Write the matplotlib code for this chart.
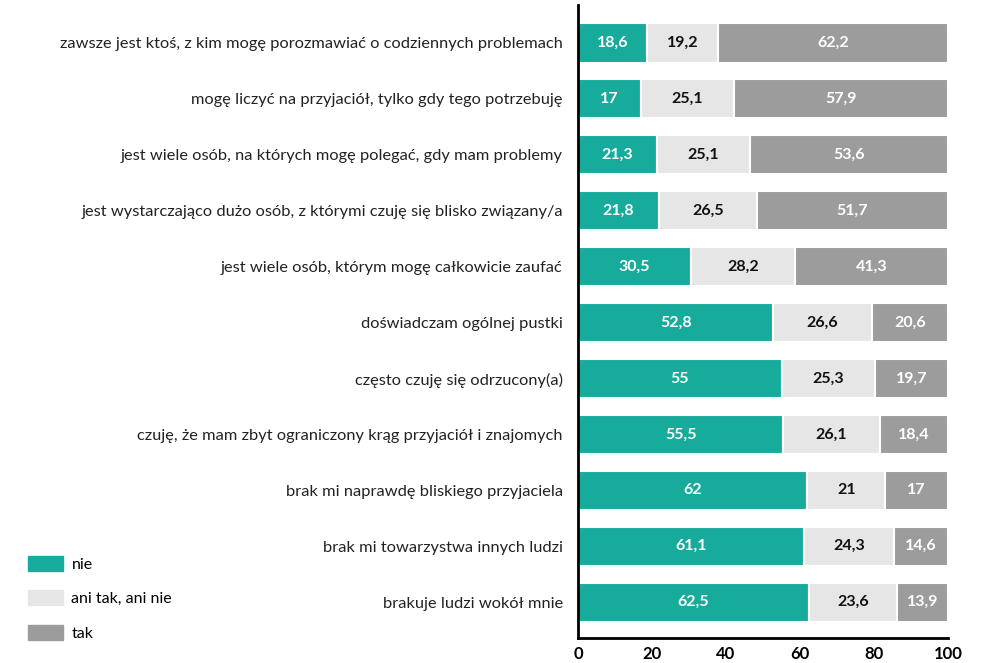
import matplotlib.pyplot as plt
from matplotlib.patches import Patch
import numpy as np

plt.rcParams['font.family'] = ['Lato', 'DejaVu Sans']

statements = [
    "zawsze jest ktoś, z kim mogę porozmawiać o codziennych problemach",
    "mogę liczyć na przyjaciół, tylko gdy tego potrzebuję",
    "jest wiele osób, na których mogę polegać, gdy mam problemy",
    "jest wystarczająco dużo osób, z którymi czuję się blisko związany/a",
    "jest wiele osób, którym mogę całkowicie zaufać",
    "doświadczam ogólnej pustki",
    "często czuję się odrzucony(a)",
    "czuję, że mam zbyt ograniczony krąg przyjaciół i znajomych",
    "brak mi naprawdę bliskiego przyjaciela",
    "brak mi towarzystwa innych ludzi",
    "brakuje ludzi wokół mnie",
]
nie = [18.6, 17, 21.3, 21.8, 30.5, 52.8, 55, 55.5, 62, 61.1, 62.5]
ani = [19.2, 25.1, 25.1, 26.5, 28.2, 26.6, 25.3, 26.1, 21, 24.3, 23.6]
tak = [62.2, 57.9, 53.6, 51.7, 41.3, 20.6, 19.7, 18.4, 17, 14.6, 13.9]

series = [("nie", nie, "#17ab9b", "white"),
          ("ani tak, ani nie", ani, "#e6e6e6", "#111111"),
          ("tak", tak, "#9c9c9c", "white")]

fig = plt.figure(figsize=(9.92, 6.63), dpi=100)
ax = fig.add_axes([0.5827, 0.0377, 0.373, 0.9548])

y = np.arange(len(statements))
left = np.zeros(len(statements))
for name, vals, col, tcol in series:
    vals = np.array(vals)
    ax.barh(y, vals, left=left, height=0.7, color=col, edgecolor="white", linewidth=1.5)
    for yi, l, v in zip(y, left, vals):
        ax.text(l + v / 2, yi, f"{v:g}".replace(".", ","), ha="center", va="center",
                color=tcol, fontsize=11.5, fontweight="bold")
    left += vals

ax.set_ylim(len(statements) - 1 + 0.64, -0.68)
ax.set_xlim(0, 100)
ax.set_xticks([0, 20, 40, 60, 80, 100])
ax.tick_params(axis="x", length=0, labelsize=12, pad=6)
for lab in ax.get_xticklabels():
    lab.set_fontweight("bold")
ax.set_yticks(y)
ax.set_yticklabels(statements, fontsize=11.8, color="#222222")
ax.tick_params(axis="y", length=0, pad=11)
for s in ["top", "right"]:
    ax.spines[s].set_visible(False)
ax.spines["left"].set_linewidth(2)
ax.spines["bottom"].set_linewidth(2)

handles = [Patch(color=c, label=n) for n, _, c, _ in series]
fig.legend(handles=handles, loc="lower left", bbox_to_anchor=(0.014, 0.012),
           frameon=False, fontsize=11.5, handlelength=2.2, handleheight=1.1,
           labelspacing=1.15, handletextpad=0.5)

fig.savefig("out.png", dpi=100)
